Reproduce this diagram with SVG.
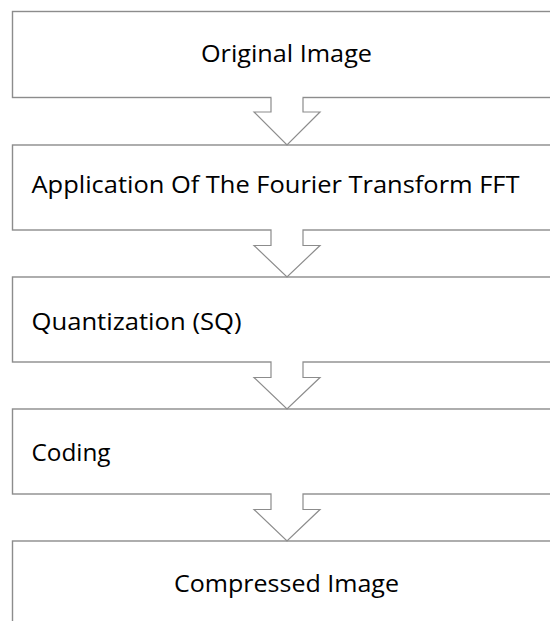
<svg xmlns="http://www.w3.org/2000/svg" width="550" height="621" viewBox="0 0 550 621">
<style>
.box{fill:#ffffff;stroke:#8c8c8c;stroke-width:1.4}
.arrow{fill:#ffffff;stroke:#8c8c8c;stroke-width:1.2;stroke-linejoin:miter}
.gap{fill:#ffffff;stroke:none}
.t{font-family:"Open Sans","Noto Sans",sans-serif;font-size:24px;fill:#000000}
.c{text-anchor:middle}
</style>
<rect width="550" height="621" fill="#ffffff"/>
<g id="node-original">
<rect class="box" x="12.5" y="11.5" width="552" height="86"/>
<text class="t c" x="286.5" y="62" textLength="171" lengthAdjust="spacingAndGlyphs">Original Image</text>
</g>
<g id="node-fft">
<rect class="box" x="12.5" y="145" width="552" height="85"/>
<text class="t" x="31.5" y="193" textLength="488" lengthAdjust="spacingAndGlyphs">Application Of The Fourier Transform FFT</text>
</g>
<g id="node-quant">
<rect class="box" x="12.5" y="277" width="552" height="85"/>
<text class="t" x="31.5" y="330" textLength="210" lengthAdjust="spacingAndGlyphs">Quantization (SQ)</text>
</g>
<g id="node-coding">
<rect class="box" x="12.5" y="409" width="552" height="85"/>
<text class="t" x="31.5" y="461" textLength="79" lengthAdjust="spacingAndGlyphs">Coding</text>
</g>
<g id="node-compressed">
<rect class="box" x="12.5" y="541" width="552" height="120"/>
<text class="t c" x="286.5" y="592" textLength="225" lengthAdjust="spacingAndGlyphs">Compressed Image</text>
</g>
<g id="connectors">
<rect class="gap" x="271.6" y="95.5" width="30.8" height="4"/>
<path class="arrow" d="M271,97.5 V112 H254 L287,145 L320,112 H303 V97.5"/>
<rect class="gap" x="271.6" y="228" width="30.8" height="4"/>
<path class="arrow" d="M271,230 V245.5 H254 L287,277 L320,245.5 H303 V230"/>
<rect class="gap" x="271.6" y="360" width="30.8" height="4"/>
<path class="arrow" d="M271,362 V377.5 H254 L287,409 L320,377.5 H303 V362"/>
<rect class="gap" x="271.6" y="492" width="30.8" height="4"/>
<path class="arrow" d="M271,494 V509.5 H254 L287,541 L320,509.5 H303 V494"/>
</g>
</svg>
